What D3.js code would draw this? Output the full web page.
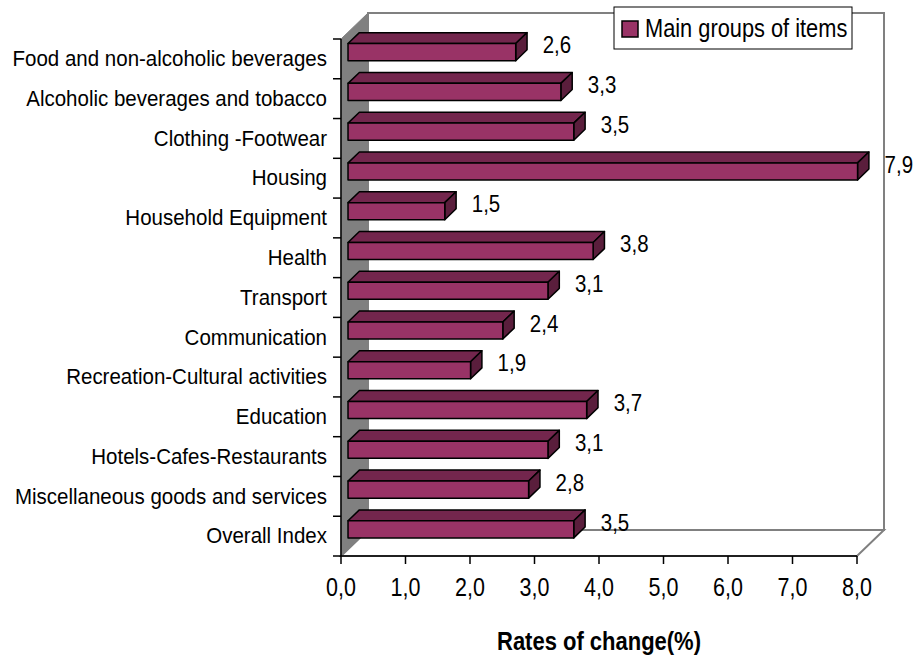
<!DOCTYPE html>
<html>
<head>
<meta charset="utf-8">
<script src="https://cdn.jsdelivr.net/npm/d3@7"></script>
<style>
  body { margin: 0; background: #fff; }
  text { font-family: "Liberation Sans", Arial, sans-serif; fill: #000; }
</style>
</head>
<body>
<script>
const categories = [
  'Food and non-alcoholic beverages',
  'Alcoholic beverages and tobacco',
  'Clothing -Footwear',
  'Housing',
  'Household Equipment',
  'Health',
  'Transport',
  'Communication',
  'Recreation-Cultural activities',
  'Education',
  'Hotels-Cafes-Restaurants',
  'Miscellaneous goods and services',
  'Overall Index'
];
const values = [2.6, 3.3, 3.5, 7.9, 1.5, 3.8, 3.1, 2.4, 1.9, 3.7, 3.1, 2.8, 3.5];
const xTicks = [0, 1, 2, 3, 4, 5, 6, 7, 8];
const seriesName = 'Main groups of items';
const axisTitle = 'Rates of change(%)';

const width = 924, height = 657;
const plotL = 341, plotR = 857, plotT = 39, plotB = 556;
const depthX = 27, depthY = 26;       // 3D depth of the box
const barFrom = 0.26, barTo = 0.68;    // bar position inside depth

const svg = d3.select('body').append('svg')
  .attr('width', width)
  .attr('height', height);

const x = d3.scaleLinear().domain([0, 8]).range([plotL, plotR]);
const y = d3.scaleBand().domain(categories).range([plotT, plotB]);

const fmt = d => d3.format('.1f')(d).replace('.', ',');

// text, slightly stretched vertically like the original
function label(g, tx, ty, str, size, anchor, sy, weight) {
  g.append('g').attr('transform', `translate(${tx},${ty}) scale(1,${sy})`)
    .append('text')
    .attr('text-anchor', anchor)
    .attr('dominant-baseline', 'central')
    .style('font-size', size + 'px')
    .style('font-weight', weight || 'normal')
    .text(str);
}

// walls
const walls = svg.append('g');
walls.append('polygon') // left wall
  .attr('points', [[plotL, plotT], [plotL + depthX, plotT - depthY], [plotL + depthX, plotB - depthY], [plotL, plotB]].join(' '))
  .attr('fill', '#808080').attr('stroke', '#808080');
walls.append('polygon') // back wall
  .attr('points', [[plotL + depthX, plotT - depthY], [plotR + depthX, plotT - depthY], [plotR + depthX, plotB - depthY], [plotL + depthX, plotB - depthY]].join(' '))
  .attr('fill', '#fff').attr('stroke', '#808080').attr('stroke-width', 2);
walls.append('polygon') // floor
  .attr('points', [[plotL, plotB], [plotL + depthX, plotB - depthY], [plotR + depthX, plotB - depthY], [plotR, plotB]].join(' '))
  .attr('fill', '#fff').attr('stroke', '#808080').attr('stroke-width', 2);

// bars
const fdx = depthX * barFrom, fdy = depthY * barFrom;
const bdx = depthX * (barTo - barFrom), bdy = depthY * (barTo - barFrom);
const barH = y.bandwidth() * 0.43;

const bars = svg.append('g').selectAll('g')
  .data(values)
  .join('g')
  .attr('stroke', '#000')
  .attr('stroke-width', 1.5)
  .attr('stroke-linejoin', 'round');

bars.each(function (v, i) {
  const g = d3.select(this);
  const x0 = x(0) + fdx, x1 = x(v) + fdx;
  const cy = y(categories[i]) + y.bandwidth() / 2 - fdy;
  const y0 = cy - barH / 2, y1 = cy + barH / 2;
  g.append('polygon') // top face
    .attr('points', [[x0, y0], [x0 + bdx, y0 - bdy], [x1 + bdx, y0 - bdy], [x1, y0]].join(' '))
    .attr('fill', '#73264d');
  g.append('polygon') // side face
    .attr('points', [[x1, y0], [x1 + bdx, y0 - bdy], [x1 + bdx, y1 - bdy], [x1, y1]].join(' '))
    .attr('fill', '#5a1e3c');
  g.append('rect') // front face
    .attr('x', x0).attr('y', y0)
    .attr('width', x1 - x0).attr('height', y1 - y0)
    .attr('fill', '#993366');
});

// data labels
const dl = svg.append('g');
values.forEach((v, i) => {
  const cy = y(categories[i]) + y.bandwidth() / 2 - fdy;
  label(dl, x(v) + fdx + 27, cy - 7, fmt(v), 20.5, 'start', 1.2);
});

// axes
const ax = svg.append('g').attr('stroke', '#000').attr('stroke-width', 1.5);
ax.append('line').attr('x1', plotL).attr('x2', plotL).attr('y1', plotT).attr('y2', plotB);
ax.append('line').attr('x1', plotL).attr('x2', plotR).attr('y1', plotB).attr('y2', plotB);
ax.selectAll('.yt')
  .data(categories.map(c => y(c)).concat([plotB]))
  .join('line')
  .attr('x1', plotL - 8).attr('x2', plotL)
  .attr('y1', d => d).attr('y2', d => d);
ax.selectAll('.xt')
  .data(xTicks)
  .join('line')
  .attr('x1', d => x(d)).attr('x2', d => x(d))
  .attr('y1', plotB).attr('y2', plotB + 8);

const lab = svg.append('g');
categories.forEach(c => {
  label(lab, plotL - 14, y(c) + y.bandwidth() / 2, c, 20.5, 'end', 1.08);
});
xTicks.forEach(t => {
  label(lab, x(t), plotB + 31, fmt(t), 21.5, 'middle', 1.2);
});
label(lab, (plotL + plotR) / 2, 641, axisTitle, 22, 'middle', 1.15, 'bold');

// legend
const leg = svg.append('g');
leg.append('rect').attr('x', 614).attr('y', 7).attr('width', 238).attr('height', 42)
  .attr('fill', '#fff').attr('stroke', '#000').attr('stroke-width', 1);
leg.append('rect').attr('x', 622).attr('y', 21).attr('width', 16).attr('height', 16)
  .attr('fill', '#993366').attr('stroke', '#000').attr('stroke-width', 1.5);
label(leg, 645, 28, seriesName, 21.8, 'start', 1.15);
</script>
</body>
</html>
